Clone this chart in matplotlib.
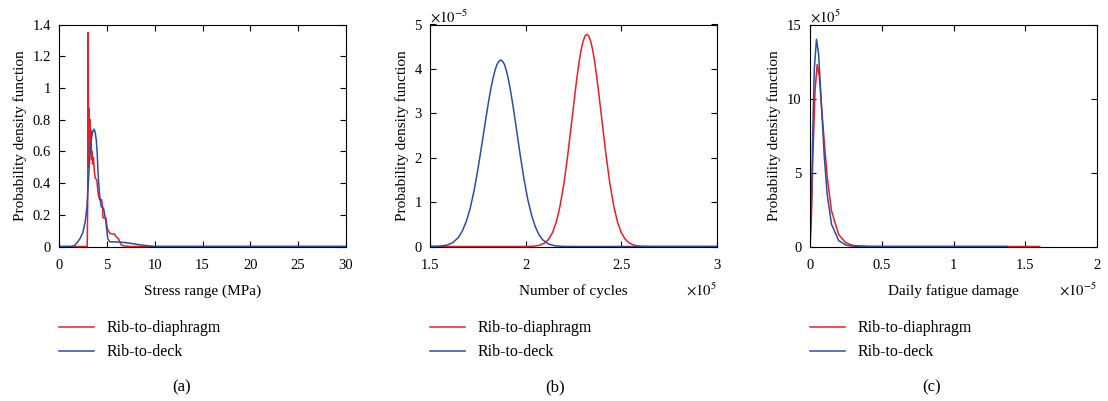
import matplotlib.pyplot as plt
from matplotlib.ticker import FuncFormatter

plt.rcParams['font.family'] = ['Liberation Serif', 'DejaVu Serif']
plt.rcParams['mathtext.fontset'] = 'stix'

red = '#ee1c25'
blue = '#2b4ea2'
labels = ['Rib-to-diaphragm', 'Rib-to-deck']

# (a) stress range (MPa) vs pdf
a_red_x = [0, 2.95, 3.0, 3.05, 3.1, 3.15, 3.2, 3.25, 3.3, 3.35, 3.4, 3.45, 3.5, 3.6, 3.7, 3.8,
           3.95, 4.1, 4.25, 4.45, 4.55, 4.6, 4.75, 4.9, 5.0, 5.1, 5.3, 5.5, 5.8, 6.0, 6.2, 6.5,
           6.8, 7.5, 30]
a_red_y = [0, 0, 0.3, 1.35, 0.5, 0.87, 0.6, 0.8, 0.66, 0.73, 0.55, 0.6, 0.52, 0.56, 0.47, 0.43,
           0.42, 0.33, 0.295, 0.295, 0.25, 0.18, 0.18, 0.18, 0.13, 0.105, 0.085, 0.08, 0.078, 0.06,
           0.05, 0.01, 0.003, 0, 0]
a_blue_x = [0, 1.2, 1.6, 1.9, 2.2, 2.5, 2.75, 2.92, 3.05, 3.2, 3.35, 3.5, 3.65, 3.78, 3.9, 4.0,
            4.07, 4.15, 4.25, 4.42, 4.55, 4.66, 4.75, 4.87, 5.0, 5.1, 5.3, 6.3, 7.0, 7.7, 8.5,
            9.1, 10, 30]
a_blue_y = [0, 0, 0.005, 0.025, 0.05, 0.09, 0.16, 0.25, 0.38, 0.55, 0.66, 0.72, 0.74, 0.72, 0.67,
            0.58, 0.48, 0.4, 0.32, 0.25, 0.245, 0.24, 0.21, 0.17, 0.1, 0.05, 0.03, 0.028, 0.024,
            0.018, 0.01, 0.006, 0, 0]

# (b) number of cycles (x1e5) vs pdf (x1e-5)
b_red_x = [1.5, 2.0, 2.04, 2.07, 2.1, 2.12, 2.14, 2.16, 2.18, 2.2, 2.22, 2.24, 2.25, 2.26,
           2.27, 2.28, 2.29, 2.3, 2.31, 2.32, 2.33, 2.34, 2.35, 2.36, 2.37, 2.38, 2.39, 2.4,
           2.42, 2.44, 2.46, 2.48, 2.5, 2.52, 2.54, 2.57, 2.6, 2.65, 3.0]
b_red_y = [0, 0, 0.006, 0.025, 0.081, 0.164, 0.31, 0.55, 0.92, 1.42, 2.06, 2.79, 3.16, 3.53,
           3.87, 4.18, 4.43, 4.62, 4.74, 4.78, 4.74, 4.62, 4.43, 4.18, 3.87, 3.53, 3.16, 2.79,
           2.06, 1.42, 0.92, 0.55, 0.31, 0.164, 0.081, 0.025, 0.006, 0, 0]
b_blue_x = [1.5, 1.55, 1.59, 1.62, 1.65, 1.67, 1.69, 1.71, 1.73, 1.75, 1.77, 1.79, 1.8, 1.81,
            1.82, 1.83, 1.84, 1.85, 1.86, 1.87, 1.88, 1.89, 1.9, 1.91, 1.92, 1.93, 1.94, 1.95,
            1.97, 1.99, 2.01, 2.03, 2.05, 2.07, 2.09, 2.12, 2.15, 2.19, 2.25, 3.0]
b_blue_y = [0, 0.008, 0.033, 0.089, 0.21, 0.36, 0.57, 0.86, 1.25, 1.73, 2.27, 2.83, 3.1, 3.36,
            3.6, 3.8, 3.97, 4.1, 4.17, 4.2, 4.17, 4.09, 3.95, 3.76, 3.53, 3.27, 2.99, 2.7,
            2.1, 1.55, 1.08, 0.72, 0.45, 0.26, 0.147, 0.055, 0.018, 0.003, 0, 0]

# (c) daily fatigue damage (x1e-5) vs pdf (x1e5)
c_red_x = [0, 0.01, 0.02, 0.035, 0.05, 0.065, 0.08, 0.1, 0.12, 0.15, 0.2, 0.25, 0.3, 0.4, 0.5, 1.6]
c_red_y = [0, 2, 6, 10.5, 12.3, 11.5, 9.5, 7, 4.7, 2.4, 0.8, 0.25, 0.07, 0.01, 0, 0]
c_blue_x = [0, 0.01, 0.02, 0.03, 0.045, 0.06, 0.08, 0.1, 0.12, 0.15, 0.2, 0.25, 0.3, 0.4, 1.37]
c_blue_y = [0, 3, 8, 12, 14, 13, 9.5, 6, 3.5, 1.5, 0.4, 0.1, 0.02, 0, 0]

fig = plt.figure(figsize=(11.08, 4.01), dpi=100)
W, H = 1108, 401
lefts = [59, 430, 810]
axes = [fig.add_axes([l / W, (H - 246.5) / H, 287 / W, 222 / H]) for l in lefts]

fmt = FuncFormatter(lambda v, p: '%g' % v)

panels = [
    (a_red_x, a_red_y, a_blue_x, a_blue_y, (0, 30), (0, 1.4), range(0, 31, 5),
     [0, 0.2, 0.4, 0.6, 0.8, 1, 1.2, 1.4], 'Stress range (MPa)', None, None),
    (b_red_x, b_red_y, b_blue_x, b_blue_y, (1.5, 3), (0, 5), [1.5, 2, 2.5, 3],
     range(0, 6), 'Number of cycles', r'$\times10^{5}$', r'$\times10^{-5}$'),
    (c_red_x, c_red_y, c_blue_x, c_blue_y, (0, 2), (0, 15), [0, 0.5, 1, 1.5, 2],
     [0, 5, 10, 15], 'Daily fatigue damage', r'$\times10^{-5}$', r'$\times10^{5}$'),
]

for ax, (rx, ry, bx, by, xl, yl, xt, yt, xlab, xoff, yoff) in zip(axes, panels):
    l1, = ax.plot(rx, ry, color=red, lw=1.1)
    l2, = ax.plot(bx, by, color=blue, lw=1.1)
    ax.set_xlim(*xl)
    ax.set_ylim(*yl)
    ax.set_xticks(list(xt))
    ax.set_yticks(list(yt))
    ax.xaxis.set_major_formatter(fmt)
    ax.yaxis.set_major_formatter(fmt)
    ax.tick_params(direction='in', top=True, right=True, length=4, width=0.8,
                   labelsize=10.5, pad=6)
    ax.tick_params(axis='x', pad=9)
    for s in ax.spines.values():
        s.set_linewidth(0.8)
    ax.set_xlabel(xlab, fontsize=11, labelpad=9)
    ax.set_ylabel('Probability density function', fontsize=11, labelpad=4)
    if xoff:
        ax.text(1.0, -0.195, xoff, transform=ax.transAxes, ha='right', va='center',
                fontsize=10.5)
    if yoff:
        ax.text(0.0, 0.995, yoff, transform=ax.transAxes, ha='left', va='bottom',
                fontsize=10.5)
    ax.legend([l1, l2], labels, loc='upper left', bbox_to_anchor=(0.0, -0.333),
              frameon=False, fontsize=11.5, handlelength=2.2, handletextpad=0.8,
              borderpad=0, borderaxespad=0, labelspacing=0.5)

for x, tag in zip([182, 555, 932], 'abc'):
    fig.text(x / W, (H - 387) / H, '(%s)' % tag, ha='center', va='center', fontsize=12)

fig.savefig('out.png', dpi=100)
